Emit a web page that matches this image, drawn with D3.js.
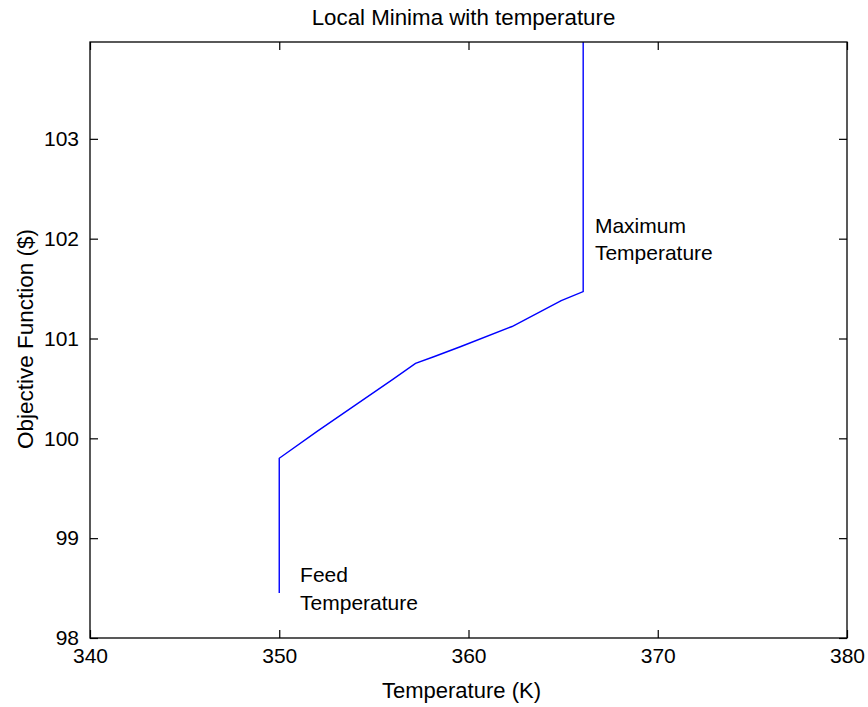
<!DOCTYPE html>
<html><head><meta charset="utf-8">
<script src="https://cdn.jsdelivr.net/npm/d3@7"></script>
<style>
html,body{margin:0;padding:0;background:#fff;}
text{font-family:"Liberation Sans",Arial,sans-serif;fill:#000;}
</style></head>
<body>
<script>
// Data
const temperature = [350, 350, 352, 354, 356, 357.2, 358.2, 359.6, 362.3, 364.9, 366.06, 366.06];
const objective   = [98.45, 99.8, 100.07, 100.33, 100.59, 100.75, 100.82, 100.92, 101.12, 101.38, 101.47, 103.97];
const xTicks = [340, 350, 360, 370, 380];
const yTicks = [98, 99, 100, 101, 102, 103];
const xDomain = [340, 380];
const yDomain = [98, 103.97];
const annotations = [
  {x: 351.1, y: 98.557, lines: ["Feed", "Temperature"]},
  {x: 366.68, y: 102.06, lines: ["Maximum", "Temperature"]}
];
const titleText = "Local Minima with temperature";
const xLabel = "Temperature (K)";
const yLabel = "Objective Function ($)";

const W = 868, H = 707;
const L = 90, R = 847, T = 42, B = 638;
const svg = d3.select("body").append("svg").attr("width", W).attr("height", H);

const x = d3.scaleLinear().domain(xDomain).range([L, R]);
const y = d3.scaleLinear().domain(yDomain).range([B, T]);

const tickLen = 8;
const fs = 21;

// Data line
svg.append("path")
  .datum(temperature.map((t, i) => [t, objective[i]]))
  .attr("fill", "none")
  .attr("stroke", "#0000ff")
  .attr("stroke-width", 1.4)
  .attr("d", d3.line().x(d => x(d[0])).y(d => y(d[1])));

// Axes (MATLAB-like box with inward ticks)
const axStyle = g => {
  g.select(".domain").remove();
  g.selectAll(".tick line").attr("stroke", "#000").attr("stroke-width", 1.2);
  g.selectAll(".tick text").attr("font-size", fs).attr("font-family", '"Liberation Sans",Arial,sans-serif').attr("fill", "#000");
};
svg.append("g").attr("transform", `translate(0,${B})`)
  .call(d3.axisBottom(x).tickValues(xTicks).tickSizeInner(-tickLen).tickSizeOuter(0).tickPadding(10).tickFormat(d3.format("d")))
  .call(axStyle);
svg.append("g").attr("transform", `translate(0,${T})`)
  .call(d3.axisTop(x).tickValues(xTicks).tickSizeInner(-tickLen).tickSizeOuter(0).tickFormat(""))
  .call(axStyle);
svg.append("g").attr("transform", `translate(${L},0)`)
  .call(d3.axisLeft(y).tickValues(yTicks).tickSizeInner(-tickLen).tickSizeOuter(0).tickPadding(11).tickFormat(d3.format("d")))
  .call(axStyle);
svg.append("g").attr("transform", `translate(${R},0)`)
  .call(d3.axisRight(y).tickValues(yTicks).tickSizeInner(-tickLen).tickSizeOuter(0).tickFormat(""))
  .call(axStyle);

svg.append("rect").attr("x", L).attr("y", T).attr("width", R - L).attr("height", B - T)
  .attr("fill", "none").attr("stroke", "#000").attr("stroke-width", 1.3);

// Annotations
annotations.forEach(a => {
  const t = svg.append("text").attr("x", x(a.x)).attr("y", y(a.y)).attr("font-size", fs);
  a.lines.forEach((ln, i) => t.append("tspan").attr("x", x(a.x)).attr("dy", i === 0 ? 0 : 27.5).text(ln));
});

// Title and labels
svg.append("text").attr("x", (L + R) / 2 - 5).attr("y", 25).attr("text-anchor", "middle").attr("font-size", 22.3).text(titleText);
svg.append("text").attr("x", (L + R) / 2 - 7).attr("y", 698).attr("text-anchor", "middle").attr("font-size", 22).text(xLabel);
svg.append("text").attr("transform", `translate(33,${(T + B) / 2 - 1}) rotate(-90)`).attr("text-anchor", "middle").attr("font-size", 22.5).text(yLabel);
</script>
</body></html>
